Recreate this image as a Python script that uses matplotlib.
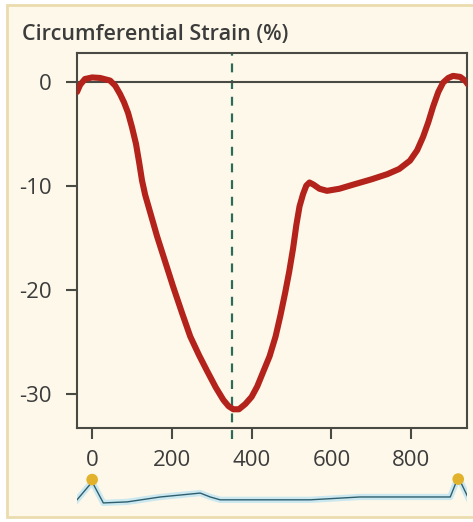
"""Circumferential strain curve with ECG strip underneath."""
import matplotlib
matplotlib.use("Agg")
import matplotlib.pyplot as plt
from matplotlib.patches import Rectangle

# strain curve (time in ms, strain in %)
time_ms = [-38, -30, -18, 0, 20, 45, 58, 70, 80, 90, 100, 110, 118, 125,
           133, 145, 163, 183, 203, 225, 246, 268, 288, 310, 329, 342, 354,
           368, 384, 400, 414, 430, 445, 460, 472, 484, 494, 504, 512, 520,
           529, 537, 545, 555, 570, 589, 620, 655, 700, 740, 770, 797, 815,
           830, 843, 855, 868, 880, 893, 905, 923, 935, 943]
strain = [-1.0, -0.3, 0.25, 0.4, 0.35, 0.1, -0.4, -1.2, -2.0, -3.0, -4.4,
          -6.0, -7.8, -9.5, -10.9, -12.5, -14.9, -17.3, -19.7, -22.2, -24.5,
          -26.3, -27.8, -29.4, -30.6, -31.2, -31.5, -31.5, -31.0, -30.3,
          -29.3, -27.8, -26.4, -24.5, -22.5, -20.3, -18.3, -16.0, -13.8,
          -12.0, -10.8, -10.0, -9.7, -9.9, -10.3, -10.5, -10.3, -9.9, -9.4,
          -8.9, -8.4, -7.6, -6.6, -5.3, -3.9, -2.4, -1.0, -0.1, 0.35, 0.55,
          0.45, 0.1, -0.3]
marker_ms = 351
x_ticks = [0, 200, 400, 600, 800]
y_ticks = [0, -10, -20, -30]

# ECG trace (arbitrary units) and R-peak markers
ecg_t = [-38, 0, 28, 88, 171, 271, 296, 321, 547, 672, 898, 918, 948]
ecg_v = [0.12, 0.81, 0.0, 0.04, 0.23, 0.38, 0.23, 0.12, 0.12, 0.23, 0.23,
         1.0, 0.04]
peak_t = [0, 918]
peak_v = [0.9, 0.92]

CREAM = "#fdf8e9"
FRAME = "#4a4a44"
RED = "#b3231b"
TEAL = "#2c6b58"
TXT = "#3c3c3c"

plt.rcParams["font.family"] = ["Open Sans", "DejaVu Sans"]
plt.rcParams["axes.unicode_minus"] = False

fig = plt.figure(figsize=(4.73, 5.22), dpi=100, facecolor="white")
fig.patches.append(Rectangle((7 / 473, 5 / 522), 1.0, 512 / 522,
                             transform=fig.transFigure, facecolor=CREAM,
                             edgecolor="#eadcae", lw=2.0, zorder=-5))

fig.text(22 / 473, 1 - 40 / 522, "Circumferential Strain (%)",
         fontsize=15.5, fontweight="semibold", color=TXT, va="baseline")

ax = fig.add_axes([77 / 473, 94 / 522, 390 / 473, 375 / 522])
ax.set_facecolor("none")
ax.plot(time_ms, strain, color=RED, lw=4.4, solid_capstyle="round",
        solid_joinstyle="round", zorder=3)
ax.axhline(0, color=FRAME, lw=1.5, zorder=2)
ax.axvline(marker_ms, ymin=-0.03, ymax=1.0, color=TEAL, lw=1.6,
           dashes=(4, 3.5), clip_on=False, zorder=1)
ax.set_xlim(-38, 940)
ax.set_ylim(-33.3, 2.75)
ax.set_xticks(x_ticks)
ax.set_yticks(y_ticks)
for s in ax.spines.values():
    s.set_color(FRAME)
    s.set_linewidth(1.5)
ax.tick_params(axis="both", direction="out", length=8, width=1.5,
               color=FRAME, labelcolor=TXT, labelsize=16)
ax.tick_params(axis="y", pad=10)
ax.tick_params(axis="x", pad=8)

# ECG strip
ax2 = fig.add_axes([77 / 473, 10 / 522, 390 / 473, 42 / 522])
ax2.set_facecolor("none")
ax2.plot(ecg_t, ecg_v, color="#cbe8f0", lw=4.5, solid_joinstyle="round")
ax2.plot(ecg_t, ecg_v, color="#2f5f6e", lw=1.0)
ax2.scatter(peak_t, peak_v, s=70, color="#e2b22c", zorder=4,
            edgecolors="none", clip_on=False)
ax2.set_xlim(-38, 940)
ax2.set_ylim(-0.35, 1.27)
ax2.axis("off")

fig.savefig("out.png", dpi=100, facecolor=fig.get_facecolor())
